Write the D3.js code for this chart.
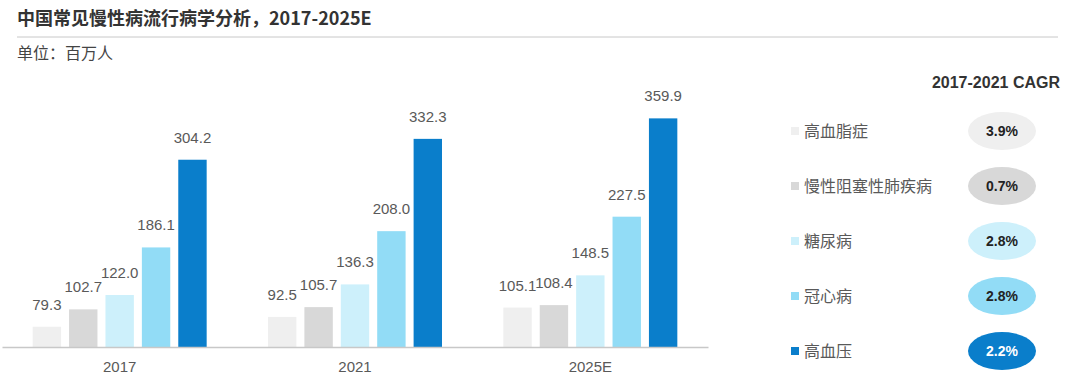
<!DOCTYPE html>
<html>
<head>
<meta charset="utf-8">
<script src="https://cdn.jsdelivr.net/npm/d3@7"></script>
<style>
  body { margin: 0; background: #fff; }
  svg { display: block; font-family: "Liberation Sans", Arial, "Noto Sans CJK SC", sans-serif; }
</style>
</head>
<body>
<script>
// data
var years = ["2017", "2021", "2025E"];
var diseases = ["高血脂症", "慢性阻塞性肺疾病", "糖尿病", "冠心病", "高血压"];
var hyperlipidemia = [79.3, 92.5, 105.1];
var copd = [102.7, 105.7, 108.4];
var diabetes = [122.0, 136.3, 148.5];
var chd = [186.1, 208.0, 227.5];
var hypertension = [304.2, 332.3, 359.9];
var cagr = ["3.9%", "0.7%", "2.8%", "2.8%", "2.2%"];
var colors = ["#efefef", "#d8d8d8", "#cdf0fb", "#92dcf6", "#0a7ecb"];

var series = [hyperlipidemia, copd, diabetes, chd, hypertension];

var svg = d3.select("body").append("svg").attr("width", 1080).attr("height", 390);

// title
svg.append("text")
    .attr("x", 17).attr("y", 25)
    .style("font-size", "18px").style("font-weight", "bold").attr("fill", "#333")
    .style("font-family", "'Noto Sans CJK SC', sans-serif")
    .text("中国常见慢性病流行病学分析，2017-2025E");
svg.append("line")
    .attr("x1", 17).attr("x2", 1058).attr("y1", 37).attr("y2", 37)
    .attr("stroke", "#c8c8c8").attr("stroke-width", 1);
svg.append("text")
    .attr("x", 17).attr("y", 59)
    .style("font-size", "16px").attr("fill", "#444")
    .style("font-family", "'Noto Sans CJK SC', sans-serif")
    .text("单位：百万人");

// scales
var x0 = d3.scaleBand().domain(years).range([2, 708]);
var x1 = d3.scaleBand().domain(d3.range(diseases.length)).range([-91, 91])
    .paddingInner(0.22).paddingOuter(0.11);
// the original axis does not start at zero
var y = d3.scaleLinear().domain([52, 360]).range([347, 118.3]);

var groups = svg.selectAll("g.year")
    .data(years)
    .enter().append("g")
    .attr("class", "year")
    .attr("transform", function(d) { return "translate(" + (x0(d) + x0.bandwidth() / 2) + ",0)"; });

groups.selectAll("rect")
    .data(function(d, i) { return series.map(function(s, k) { return {k: k, v: s[i]}; }); })
    .enter().append("rect")
    .attr("x", function(d) { return x1(d.k); })
    .attr("width", x1.bandwidth())
    .attr("y", function(d) { return y(d.v); })
    .attr("height", function(d) { return y(52) - y(d.v); })
    .attr("fill", function(d) { return colors[d.k]; });

groups.selectAll("text.val")
    .data(function(d, i) { return series.map(function(s, k) { return {k: k, v: s[i]}; }); })
    .enter().append("text")
    .attr("class", "val")
    .attr("x", function(d) { return x1(d.k) + x1.bandwidth() / 2; })
    .attr("y", function(d) { return y(d.v) - 17; })
    .attr("text-anchor", "middle")
    .style("font-size", "15px").attr("fill", "#595959")
    .text(function(d) { return d.v.toFixed(1); });

// x axis
var xAxis = svg.append("g")
    .attr("transform", "translate(0," + y(52) + ")")
    .call(d3.axisBottom(x0).tickSize(0).tickPadding(14));
xAxis.select(".domain").attr("stroke", "#c8c8c8").attr("stroke-width", 1.5);
xAxis.selectAll("text")
    .style("font-size", "15px").attr("fill", "#595959")
    .style("font-family", "'Liberation Sans', Arial, sans-serif");

// legend with CAGR
svg.append("text")
    .attr("x", 1060).attr("y", 88)
    .attr("text-anchor", "end")
    .style("font-size", "16px").style("font-weight", "bold").attr("fill", "#333")
    .text("2017-2021 CAGR");

var legend = svg.selectAll("g.legend")
    .data(diseases)
    .enter().append("g")
    .attr("class", "legend")
    .attr("transform", function(d, i) { return "translate(0," + (131 + i * 55) + ")"; });

legend.append("rect")
    .attr("x", 791).attr("y", -4).attr("width", 8).attr("height", 8)
    .attr("fill", function(d, i) { return colors[i]; });
legend.append("text")
    .attr("x", 804).attr("y", 6)
    .style("font-size", "16px").attr("fill", "#595959")
    .style("font-family", "'Noto Sans CJK SC', sans-serif")
    .text(function(d) { return d; });
legend.append("ellipse")
    .attr("cx", 1002).attr("cy", 0).attr("rx", 34).attr("ry", 19)
    .attr("fill", function(d, i) { return colors[i]; });
legend.append("text")
    .attr("x", 1002).attr("y", 5)
    .attr("text-anchor", "middle")
    .style("font-size", "14px").style("font-weight", "bold")
    .attr("fill", function(d, i) { return i == 4 ? "#fff" : "#222"; })
    .text(function(d, i) { return cagr[i]; });
</script>
</body>
</html>
